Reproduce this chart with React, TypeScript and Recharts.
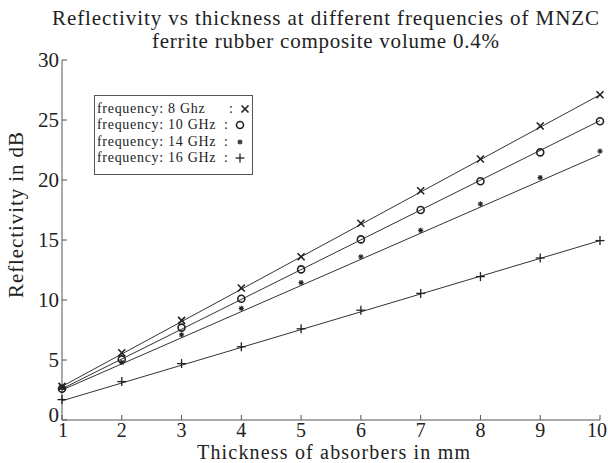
import { ComposedChart, Line, Scatter, XAxis, YAxis } from "recharts";

const thickness = [1, 2, 3, 4, 5, 6, 7, 8, 9, 10];
const refl8 = [2.8, 5.6, 8.3, 11.0, 13.6, 16.4, 19.1, 21.75, 24.5, 27.1];
const refl10 = [2.6, 5.05, 7.7, 10.1, 12.55, 15.05, 17.5, 19.9, 22.3, 24.9];
const refl14 = [2.7, 4.8, 7.1, 9.3, 11.45, 13.6, 15.8, 18.0, 20.2, 22.4];
const refl16 = [1.7, 3.2, 4.7, 6.1, 7.6, 9.15, 10.55, 11.95, 13.5, 14.95];

// straight fitted lines, read at the two ends of the axis
const fitX = [1, 10];
const fit8 = [2.8, 27.1];
const fit10 = [2.6, 24.95];
const fit14 = [2.5, 22.1];
const fit16 = [1.6, 14.95];

const xTicks = [1, 2, 3, 4, 5, 6, 7, 8, 9, 10];
const yTicks = [0, 5, 10, 15, 20, 25, 30];

const seriesNames = ["frequency: 8 Ghz", "frequency: 10 GHz", "frequency: 14 GHz", "frequency: 16 GHz"];
const markers = ["x", "o", "*", "+"];

const FONT = "'Liberation Serif', 'Times New Roman', serif";
const INK = "#222";
const AXIS = "#555";

const toPoints = (ys: number[]) => thickness.map((x, i) => ({ x, y: ys[i] }));
const toFit = (ys: number[]) => fitX.map((x, i) => ({ x, y: ys[i] }));

const drawMarker = (kind: string, cx: number, cy: number) => {
  const s = 3.5;
  if (kind === "x") {
    return (
      <g stroke={INK} strokeWidth={1.6}>
        <line x1={cx - s} y1={cy - s} x2={cx + s} y2={cy + s} />
        <line x1={cx - s} y1={cy + s} x2={cx + s} y2={cy - s} />
      </g>
    );
  }
  if (kind === "o") {
    return <circle cx={cx} cy={cy} r={3.5} fill="none" stroke={INK} strokeWidth={1.6} />;
  }
  if (kind === "*") {
    return (
      <g stroke={INK} strokeWidth={1.1}>
        <line x1={cx - 2.6} y1={cy} x2={cx + 2.6} y2={cy} />
        <line x1={cx} y1={cy - 2.6} x2={cx} y2={cy + 2.6} />
        <line x1={cx - 1.9} y1={cy - 1.9} x2={cx + 1.9} y2={cy + 1.9} />
        <line x1={cx - 1.9} y1={cy + 1.9} x2={cx + 1.9} y2={cy - 1.9} />
      </g>
    );
  }
  return (
    <g stroke={INK} strokeWidth={1.3}>
      <line x1={cx - 4.5} y1={cy} x2={cx + 4.5} y2={cy} />
      <line x1={cx} y1={cy - 4.5} x2={cx} y2={cy + 4.5} />
    </g>
  );
};

const markerShape = (kind: string) => (props: any) => drawMarker(kind, props.cx, props.cy);

const BottomTick = (props: any) => {
  const { x, y, payload } = props;
  const shift = payload.value === 10 ? -3 : payload.value === 1 ? 1 : 0;
  return (
    <g>
      <line x1={x} y1={y} x2={x} y2={y - 5} stroke={AXIS} />
      <text x={x + shift} y={y + 17} textAnchor="middle" fontFamily={FONT} fontSize={20} fill={INK}>
        {payload.value}
      </text>
    </g>
  );
};

const LeftTick = (props: any) => {
  const { x, y, payload } = props;
  const dy = payload.value === 0 ? 2 : 7;
  return (
    <g>
      <line x1={x} y1={y} x2={x + 5} y2={y} stroke={AXIS} />
      <text x={x - 3} y={y + dy} textAnchor="end" fontFamily={FONT} fontSize={21} fill={INK}>
        {payload.value}
      </text>
    </g>
  );
};

const TopTick = (props: any) => (
  <line x1={props.x} y1={props.y} x2={props.x} y2={props.y + 5} stroke={AXIS} />
);

const RightTick = (props: any) => (
  <line x1={props.x} y1={props.y} x2={props.x - 5} y2={props.y} stroke={AXIS} />
);

const LegendBox = () => (
  <div
    style={{
      position: "absolute",
      left: 94,
      top: 95,
      width: 159,
      height: 80,
      boxSizing: "border-box",
      border: "1px solid #555",
      background: "#fff",
      padding: "5px 0 0 2px",
      fontFamily: FONT,
      fontSize: 14,
      letterSpacing: 0.7,
      lineHeight: "16.3px",
      color: INK,
    }}
  >
    {seriesNames.map((name, i) => (
      <div key={name} style={{ display: "flex", alignItems: "center", whiteSpace: "nowrap" }}>
        <span style={{ width: i === 0 ? 137 : 127 }}>{name}</span>
        <span>:</span>
        <svg width={14} height={12} style={{ marginLeft: 5 }}>
          {drawMarker(markers[i], 6, 6)}
        </svg>
      </div>
    ))}
  </div>
);

export default function App() {
  const series = [refl8, refl10, refl14, refl16];
  const fits = [fit8, fit10, fit14, fit16];
  return (
    <div style={{ position: "absolute", left: 0, top: 0, width: 608, height: 463, background: "#fff" }}>
      <ComposedChart width={608} height={463} margin={{ top: 60, right: 8, bottom: 0, left: 0 }}>
        <XAxis
          type="number"
          dataKey="x"
          domain={[1, 10]}
          ticks={xTicks}
          height={43}
          tickSize={0}
          tickMargin={0}
          tickLine={false}
          tick={<BottomTick />}
          stroke={AXIS}
          interval={0}
        />
        <XAxis
          xAxisId="top"
          orientation="top"
          type="number"
          dataKey="x"
          domain={[1, 10]}
          ticks={xTicks}
          height={0}
          tickSize={0}
          tickMargin={0}
          tickLine={false}
          tick={<TopTick />}
          stroke={AXIS}
          interval={0}
        />
        <YAxis
          type="number"
          domain={[0, 30]}
          ticks={yTicks}
          width={62}
          tickSize={0}
          tickMargin={0}
          tickLine={false}
          tick={<LeftTick />}
          stroke={AXIS}
          interval={0}
        />
        <YAxis
          yAxisId="right"
          orientation="right"
          type="number"
          domain={[0, 30]}
          ticks={yTicks}
          width={0}
          tickSize={0}
          tickMargin={0}
          tickLine={false}
          tick={<RightTick />}
          stroke={AXIS}
          interval={0}
        />
        {fits.map((f, i) => (
          <Line
            key={`fit-${i}`}
            data={toFit(f)}
            dataKey="y"
            type="linear"
            stroke="#333"
            strokeWidth={1}
            dot={false}
            isAnimationActive={false}
          />
        ))}
        {series.map((s, i) => (
          <Scatter
            key={`pts-${i}`}
            data={toPoints(s)}
            dataKey="y"
            shape={markerShape(markers[i])}
            isAnimationActive={false}
          />
        ))}
        <text
          x={325.5}
          y={25}
          textAnchor="middle"
          fontFamily={FONT}
          fontSize={21}
          fill={INK}
          textLength={547}
          lengthAdjust="spacing"
        >
          Reflectivity vs thickness at different frequencies of MNZC
        </text>
        <text
          x={325.5}
          y={48}
          textAnchor="middle"
          fontFamily={FONT}
          fontSize={21}
          fill={INK}
          textLength={347}
          lengthAdjust="spacing"
        >
          ferrite rubber composite volume 0.4%
        </text>
        <text
          x={333.5}
          y={459}
          textAnchor="middle"
          fontFamily={FONT}
          fontSize={20}
          fill={INK}
          textLength={273}
          lengthAdjust="spacing"
        >
          Thickness of absorbers in mm
        </text>
        <text
          x={0}
          y={0}
          transform="translate(23, 215) rotate(-90)"
          textAnchor="middle"
          fontFamily={FONT}
          fontSize={21}
          fill={INK}
          textLength={166}
          lengthAdjust="spacing"
        >
          Reflectivity in dB
        </text>
      </ComposedChart>
      <LegendBox />
    </div>
  );
}
